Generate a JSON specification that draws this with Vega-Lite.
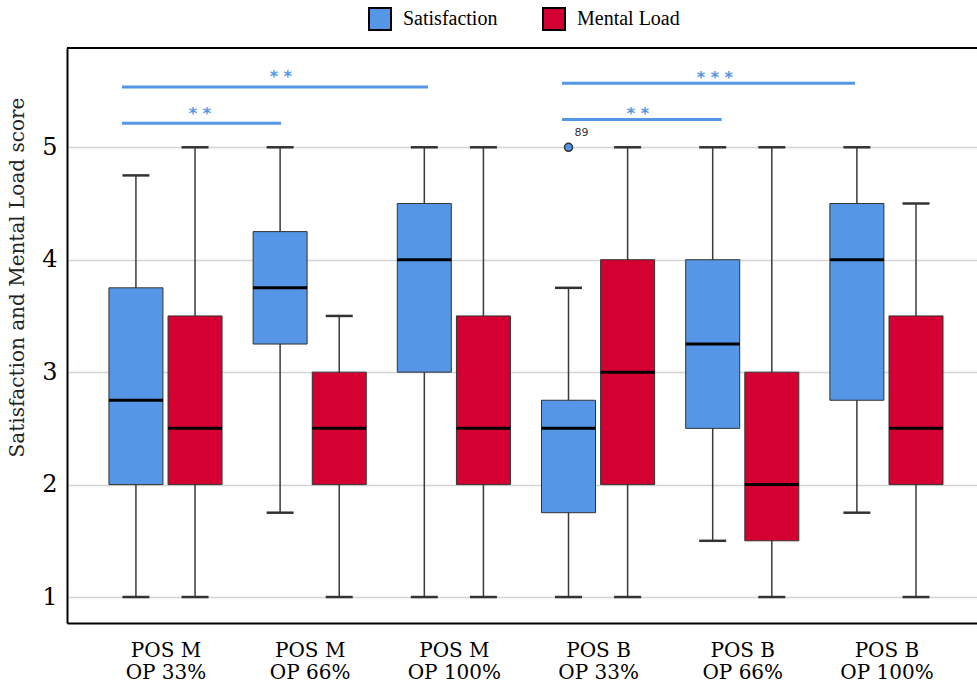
{
  "$schema": "https://vega.github.io/schema/vega-lite/v6.json",
  "width": 910,
  "height": 575,
  "autosize": "none",
  "padding": {"left": 67, "top": 48, "right": 0, "bottom": 60},
  "background": "white",
  "config": {"view": {"stroke": null}, "font": "DejaVu Serif"},
  "datasets": {
    "boxes": [
      {"grp": 1, "type": "Satisfaction", "x": 0.795, "min": 1, "q1": 2, "med": 2.75, "q3": 3.75, "max": 4.75},
      {"grp": 1, "type": "Mental Load", "x": 1.205, "min": 1, "q1": 2, "med": 2.5, "q3": 3.5, "max": 5},
      {"grp": 2, "type": "Satisfaction", "x": 1.795, "min": 1.75, "q1": 3.25, "med": 3.75, "q3": 4.25, "max": 5},
      {"grp": 2, "type": "Mental Load", "x": 2.205, "min": 1, "q1": 2, "med": 2.5, "q3": 3, "max": 3.5},
      {"grp": 3, "type": "Satisfaction", "x": 2.795, "min": 1, "q1": 3, "med": 4, "q3": 4.5, "max": 5},
      {"grp": 3, "type": "Mental Load", "x": 3.205, "min": 1, "q1": 2, "med": 2.5, "q3": 3.5, "max": 5},
      {"grp": 4, "type": "Satisfaction", "x": 3.795, "min": 1, "q1": 1.75, "med": 2.5, "q3": 2.75, "max": 3.75},
      {"grp": 4, "type": "Mental Load", "x": 4.205, "min": 1, "q1": 2, "med": 3, "q3": 4, "max": 5},
      {"grp": 5, "type": "Satisfaction", "x": 4.795, "min": 1.5, "q1": 2.5, "med": 3.25, "q3": 4, "max": 5},
      {"grp": 5, "type": "Mental Load", "x": 5.205, "min": 1, "q1": 1.5, "med": 2, "q3": 3, "max": 5},
      {"grp": 6, "type": "Satisfaction", "x": 5.795, "min": 1.75, "q1": 2.75, "med": 4, "q3": 4.5, "max": 5},
      {"grp": 6, "type": "Mental Load", "x": 6.205, "min": 1, "q1": 2, "med": 2.5, "q3": 3.5, "max": 4.5}
    ],
    "sig": [
      {"x1": 0.698, "x2": 2.82, "y": 5.537, "lab": "* *", "xt": 1.8, "yt": 5.578},
      {"x1": 0.698, "x2": 1.801, "y": 5.214, "lab": "* *", "xt": 1.239, "yt": 5.253},
      {"x1": 3.75, "x2": 5.782, "y": 5.569, "lab": "* * *", "xt": 4.81, "yt": 5.576},
      {"x1": 3.75, "x2": 4.857, "y": 5.246, "lab": "* *", "xt": 4.276, "yt": 5.249}
    ],
    "outliers": [{"x": 3.795, "value": 5, "label": "89"}],
    "frame": [{"top": 5.883}]
  },
  "layer": [
    {
      "data": {"name": "boxes"},
      "mark": {"type": "rule", "color": "#3a3a3a", "strokeWidth": 1.5},
      "encoding": {
        "x": {
          "field": "x", "type": "quantitative", "title": null,
          "scale": {"domain": [0.317, 6.628], "nice": false, "zero": false, "padding": 0},
          "axis": {
            "values": [1, 2, 3, 4, 5, 6],
            "labelExpr": "datum.value == 1 ? ['POS M','OP 33%'] : datum.value == 2 ? ['POS M','OP 66%'] : datum.value == 3 ? ['POS M','OP 100%'] : datum.value == 4 ? ['POS B','OP 33%'] : datum.value == 5 ? ['POS B','OP 66%'] : ['POS B','OP 100%']",
            "grid": false, "ticks": false, "tickSize": 0,
            "domainColor": "black", "domainWidth": 2,
            "labelFont": "DejaVu Serif, serif", "labelFontSize": 20, "labelColor": "black",
            "labelPadding": 17, "labelLineHeight": 22
          }
        },
        "y": {
          "field": "min", "type": "quantitative", "title": "Satisfaction and Mental Load score",
          "scale": {"domain": [0.769, 5.883], "nice": false, "zero": false, "padding": 0},
          "axis": {
            "values": [1, 2, 3, 4, 5], "format": "d",
            "titleFont": "DejaVu Serif, serif", "titleFontSize": 20, "titleFontWeight": "normal",
            "titleColor": "#222", "titlePadding": 14, "titleY": 229,
            "labelFont": "DejaVu Serif, serif", "labelFontSize": 24, "labelColor": "black",
            "labelPadding": 10, "ticks": false, "tickSize": 0,
            "grid": true, "gridColor": "#d4d4d4", "gridWidth": 1.5,
            "domainColor": "black", "domainWidth": 2
          }
        },
        "y2": {"field": "max"}
      }
    },
    {
      "data": {"name": "boxes"},
      "mark": {"type": "tick", "orient": "horizontal", "size": 27, "thickness": 2.5, "color": "#333", "opacity": 1},
      "encoding": {
        "x": {"field": "x", "type": "quantitative", "title": null},
        "y": {"field": "min", "type": "quantitative", "title": "Satisfaction and Mental Load score"}
      }
    },
    {
      "data": {"name": "boxes"},
      "mark": {"type": "tick", "orient": "horizontal", "size": 27, "thickness": 2.5, "color": "#333", "opacity": 1},
      "encoding": {
        "x": {"field": "x", "type": "quantitative", "title": null},
        "y": {"field": "max", "type": "quantitative", "title": "Satisfaction and Mental Load score"}
      }
    },
    {
      "data": {"name": "boxes"},
      "mark": {"type": "bar", "width": 54, "stroke": "#333", "strokeWidth": 1, "opacity": 1},
      "encoding": {
        "x": {"field": "x", "type": "quantitative", "title": null},
        "y": {"field": "q1", "type": "quantitative", "title": "Satisfaction and Mental Load score"},
        "y2": {"field": "q3"},
        "color": {
          "field": "type", "type": "nominal",
          "scale": {"domain": ["Satisfaction", "Mental Load"], "range": ["#5596E6", "#D50032"]},
          "legend": {
            "title": null, "orient": "none", "legendX": 301, "legendY": -41,
            "direction": "horizontal", "symbolType": "square", "symbolSize": 484,
            "symbolStrokeColor": "black", "symbolStrokeWidth": 2, "symbolOpacity": 1,
            "labelFont": "Liberation Serif", "labelFontSize": 20, "labelColor": "black",
            "labelOffset": 11, "columnPadding": 41, "padding": 0
          }
        }
      }
    },
    {
      "data": {"name": "boxes"},
      "mark": {"type": "tick", "orient": "horizontal", "size": 54, "thickness": 3, "color": "black", "opacity": 1},
      "encoding": {
        "x": {"field": "x", "type": "quantitative", "title": null},
        "y": {"field": "med", "type": "quantitative", "title": "Satisfaction and Mental Load score"}
      }
    },
    {
      "data": {"name": "outliers"},
      "mark": {"type": "point", "filled": true, "fill": "#5596E6", "stroke": "#333", "strokeWidth": 1.5, "size": 64, "opacity": 1},
      "encoding": {
        "x": {"field": "x", "type": "quantitative", "title": null},
        "y": {"field": "value", "type": "quantitative", "title": "Satisfaction and Mental Load score"}
      }
    },
    {
      "data": {"name": "outliers"},
      "mark": {"type": "text", "font": "DejaVu Sans", "fontSize": 11, "color": "#333", "dx": 13, "dy": -14, "align": "center", "baseline": "middle"},
      "encoding": {
        "x": {"field": "x", "type": "quantitative", "title": null},
        "y": {"field": "value", "type": "quantitative", "title": "Satisfaction and Mental Load score"},
        "text": {"field": "label"}
      }
    },
    {
      "data": {"name": "sig"},
      "mark": {"type": "rule", "color": "#5596E6", "strokeWidth": 3},
      "encoding": {
        "x": {"field": "x1", "type": "quantitative", "title": null},
        "x2": {"field": "x2"},
        "y": {"field": "y", "type": "quantitative", "title": "Satisfaction and Mental Load score"}
      }
    },
    {
      "data": {"name": "sig"},
      "mark": {"type": "text", "font": "DejaVu Sans", "fontSize": 16, "fontWeight": "bold", "color": "#5596E6", "align": "center", "baseline": "alphabetic"},
      "encoding": {
        "x": {"field": "xt", "type": "quantitative", "title": null},
        "y": {"field": "yt", "type": "quantitative", "title": "Satisfaction and Mental Load score"},
        "text": {"field": "lab"}
      }
    },
    {
      "data": {"name": "frame"},
      "mark": {"type": "rule", "color": "black", "strokeWidth": 2},
      "encoding": {
        "y": {"field": "top", "type": "quantitative", "title": "Satisfaction and Mental Load score"}
      }
    }
  ]
}
